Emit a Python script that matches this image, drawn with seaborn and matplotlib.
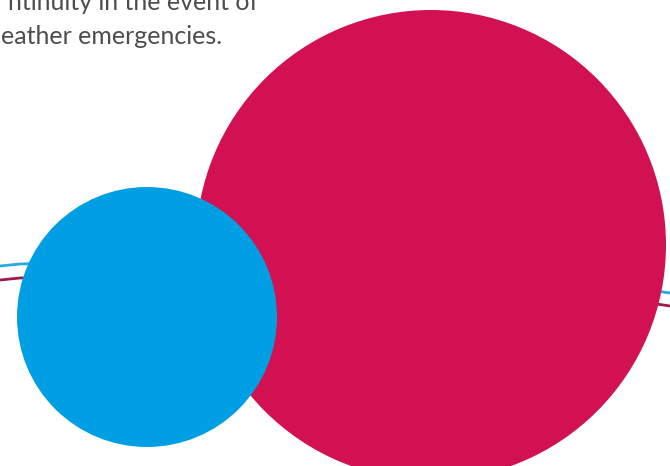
import matplotlib
matplotlib.use("Agg")
import numpy as np
import pandas as pd
import seaborn as sns
from matplotlib import pyplot as plt

# bubbles (pixel-like data space, y grows downward)
bubble_names = ["Big", "Small"]
bubble_x = [431, 147]
bubble_y = [245, 317]
bubble_r = [235, 130]
bubble_colors = ["#d11152", "#009fe3"]

# background trend lines
line_x = [0, 20, 100, 200, 300, 400, 500, 600, 650, 670]
line_blue = [266, 264, 262, 261, 263, 267, 274, 284, 290, 293]
line_red = [280, 278, 276, 275, 277, 281, 288, 297, 303, 306]

text_lines = ["ntinuity in the event of", "eather emergencies."]

sns.set_style("white")
plt.rcParams['font.family'] = ['Lato', 'DejaVu Sans']

fig = plt.figure(figsize=(6.7, 4.66), dpi=100)
ax = fig.add_axes([0, 0, 1, 1])

df = pd.DataFrame({"x": line_x * 2,
                   "y": line_blue + line_red,
                   "series": ["blue"] * len(line_x) + ["red"] * len(line_x)})
sns.lineplot(data=df, x="x", y="y", hue="series",
             palette={"blue": "#2aa8e0", "red": "#9e1a4c"},
             linewidth=2, legend=False, ax=ax, zorder=1)

for name, x, y, r, c in zip(bubble_names, bubble_x, bubble_y, bubble_r, bubble_colors):
    ax.add_patch(plt.Circle((x, y), r, color=c, lw=0, zorder=2))

ax.text(258, 10, text_lines[0], ha="right", va="baseline",
        fontsize=18, color="#4d4d4d", zorder=3)
ax.text(222, 44, text_lines[1], ha="right", va="baseline",
        fontsize=18, color="#4d4d4d", zorder=3)

ax.set_xlim(0, 670)
ax.set_ylim(466, 0)
ax.set_aspect("auto")
ax.axis("off")

fig.savefig("out.png", dpi=100)
